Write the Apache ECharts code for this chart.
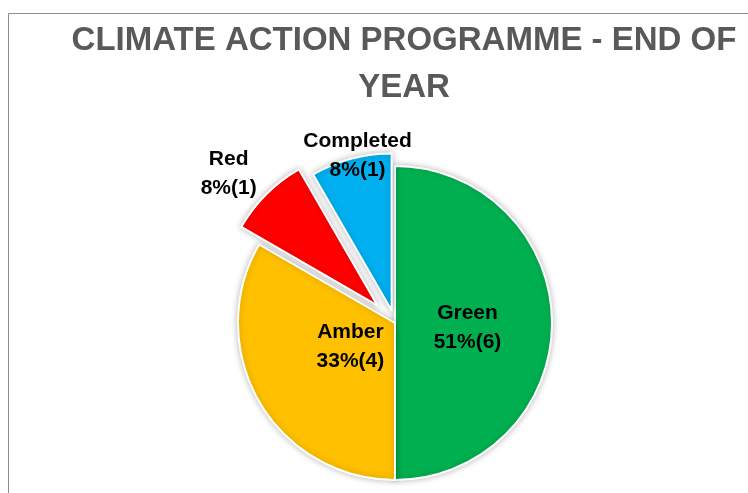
<!DOCTYPE html>
<html>
<head>
<meta charset="utf-8">
<script src="https://cdn.jsdelivr.net/npm/echarts@6/dist/echarts.min.js"></script>
<style>
  html, body { margin: 0; padding: 0; background: #fff; }
  #chart { width: 748px; height: 493px; }
</style>
</head>
<body>
<div id="chart"></div>
<script>
// status categories, number of actions and the shares printed on the chart
var statusNames = ['Green', 'Amber', 'Red', 'Completed'];
var statusCount = [6, 4, 1, 1];
var statusPct = [51, 33, 8, 8];
var statusColors = ['#00b050', '#ffc000', '#ff0000', '#00b0f0'];

// how far each slice is pulled out, and label nudges
var pullOut = [0, 0, 25, 13];
var labelShift = [[-9, 5], [26, -17], [-91, -74], [-13, -76]];

var chart = echarts.init(document.getElementById('chart'));

// one pie per distinct pull-out distance, the other slices kept invisible
function buildSeries(offset) {
  var items = [];
  for (var i = 0; i < statusNames.length; i++) {
    var mine = pullOut[i] === offset;
    items.push({
      name: statusNames[i],
      value: statusCount[i],
      selected: mine && offset > 0,
      itemStyle: mine ? {
        color: statusColors[i],
        borderColor: '#fff',
        borderWidth: 2,
        shadowBlur: 6,
        shadowColor: 'rgba(0,0,0,0.25)'
      } : { color: 'rgba(0,0,0,0)', borderWidth: 0 },
      label: {
        show: mine,
        position: 'inside',
        formatter: statusNames[i] + '\n' + statusPct[i] + '%(' + statusCount[i] + ')'
      }
    });
  }
  return {
    type: 'pie',
    center: [395, 323],
    radius: 157,
    startAngle: 90,
    clockwise: true,
    selectedMode: 'multiple',
    selectedOffset: offset,
    silent: true,
    animation: false,
    label: {
      color: '#000',
      fontFamily: 'Liberation Sans',
      fontWeight: 'bold',
      fontSize: 21,
      lineHeight: 29
    },
    labelLine: { show: false },
    labelLayout: function (params) {
      var s = labelShift[params.dataIndex];
      return { dx: s[0], dy: s[1] };
    },
    data: items
  };
}

var option = {
  backgroundColor: '#fff',
  title: {
    text: 'CLIMATE ACTION PROGRAMME - END OF\nYEAR',
    left: 399,
    top: 12,
    textAlign: 'center',
    textStyle: {
      color: '#595959',
      fontFamily: 'Liberation Sans',
      fontWeight: 'bold',
      fontSize: 33,
      lineHeight: 47
    }
  },
  graphic: [{
    type: 'rect',
    shape: { x: 8.5, y: 13.5, width: 800, height: 600 },
    style: { fill: 'none', stroke: '#8c8c8c', lineWidth: 1 },
    silent: true,
    z: -1
  }],
  series: [buildSeries(0), buildSeries(25), buildSeries(13)]
};

chart.setOption(option);
</script>
</body>
</html>
